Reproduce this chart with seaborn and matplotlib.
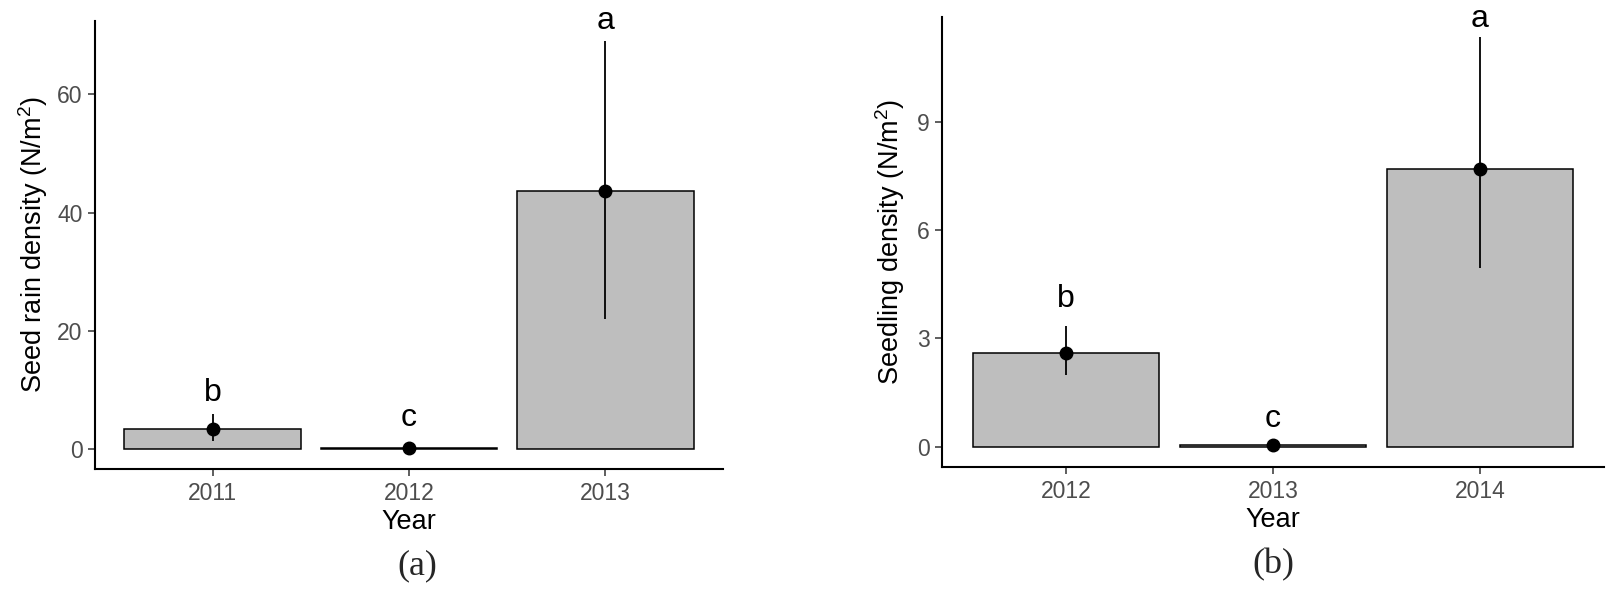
import numpy as np
import pandas as pd
import matplotlib
matplotlib.use("Agg")
import matplotlib.pyplot as plt
import seaborn as sns

# ---- data ----
years_a = ["2011", "2012", "2013"]
seed_rain = [3.4, 0.05, 43.6]
seed_rain_low = [1.3, 0.0, 22.0]
seed_rain_high = [5.9, 0.1, 69.0]
letters_a = ["b", "c", "a"]
letter_y_a = [9.4, 5.2, 72.4]
yticks_a = [0, 20, 40, 60]

years_b = ["2012", "2013", "2014"]
seedling = [2.6, 0.05, 7.7]
seedling_low = [1.98, 0.0, 4.95]
seedling_high = [3.34, 0.1, 11.33]
letters_b = ["b", "c", "a"]
letter_y_b = [4.1, 0.75, 11.83]
yticks_b = [0, 3, 6, 9]

sns.set_style("ticks")
plt.rcParams["font.family"] = ["Liberation Sans", "DejaVu Sans"]
plt.rcParams["mathtext.fontset"] = "custom"
plt.rcParams["mathtext.rm"] = "Liberation Sans"
plt.rcParams["mathtext.it"] = "Liberation Sans:italic"
plt.rcParams["mathtext.bf"] = "Liberation Sans:bold"

W, H = 1607, 591
fig = plt.figure(figsize=(W / 100, H / 100), dpi=100)

def px_axes(l, t, r, b):
    return fig.add_axes([l / W, 1 - b / H, (r - l) / W, (b - t) / H])

ax_a = px_axes(95, 21, 723, 469)
ax_b = px_axes(942, 17, 1604, 467)

def panel(ax, years, vals, low, high, letters, ly, yticks, ylabel, ylab_x):
    df = pd.DataFrame({"Year": years, "val": vals})
    sns.barplot(data=df, x="Year", y="val", color="#BEBEBE", saturation=1,
                edgecolor="black", linewidth=1.1, width=0.9, ax=ax)
    xs = np.arange(len(years))
    v = np.array(vals)
    yerr = np.vstack([v - np.array(low), np.array(high) - v])
    ax.errorbar(xs, v, yerr=yerr, fmt="o", color="black", ecolor="black",
                elinewidth=1.3, markersize=9, capsize=0, zorder=5)
    for x, t, y in zip(xs, letters, ly):
        ax.text(x, y, t, ha="center", va="center", fontsize=23,
                color="black", clip_on=False)
    lo = min(0, min(low))
    hi = max(high)
    pad = 0.05 * (hi - lo)
    ax.set_ylim(lo - pad, hi + pad)
    ax.set_xlim(-0.6, len(years) - 1 + 0.6)
    ax.set_yticks(yticks)
    ax.set_yticklabels([str(t) for t in yticks])
    sns.despine(ax=ax)
    for s in ["left", "bottom"]:
        ax.spines[s].set_linewidth(1.5)
        ax.spines[s].set_color("black")
    ax.tick_params(axis="both", length=5, width=1.1, color="#333333",
                   labelsize=16.5, labelcolor="#4D4D4D")
    ax.tick_params(axis="x", pad=4)
    ax.tick_params(axis="y", pad=4)
    ax.set_xlabel("Year", fontsize=19.5, color="black")
    ax.xaxis.label.set_verticalalignment("center")
    ax.xaxis.set_label_coords(0.5, -0.118)
    ax.set_ylabel(ylabel, fontsize=19.5, color="black")
    ax.yaxis.label.set_verticalalignment("center")
    ax.yaxis.set_label_coords(ylab_x, 0.5)

panel(ax_a, years_a, seed_rain, seed_rain_low, seed_rain_high, letters_a,
      letter_y_a, yticks_a, r"Seed rain density (N/m$^2$)", -0.099)
panel(ax_b, years_b, seedling, seedling_low, seedling_high, letters_b,
      letter_y_b, yticks_b, r"Seedling density (N/m$^2$)", -0.079)

fig.text(417 / W, 1 - 566 / H, "(a)", ha="center", va="center",
         fontsize=26, family=["Liberation Serif", "DejaVu Serif"])
fig.text(1273 / W, 1 - 565 / H, "(b)", ha="center", va="center",
         fontsize=26, family=["Liberation Serif", "DejaVu Serif"])

fig.savefig("out.png", dpi=100, facecolor="white")
